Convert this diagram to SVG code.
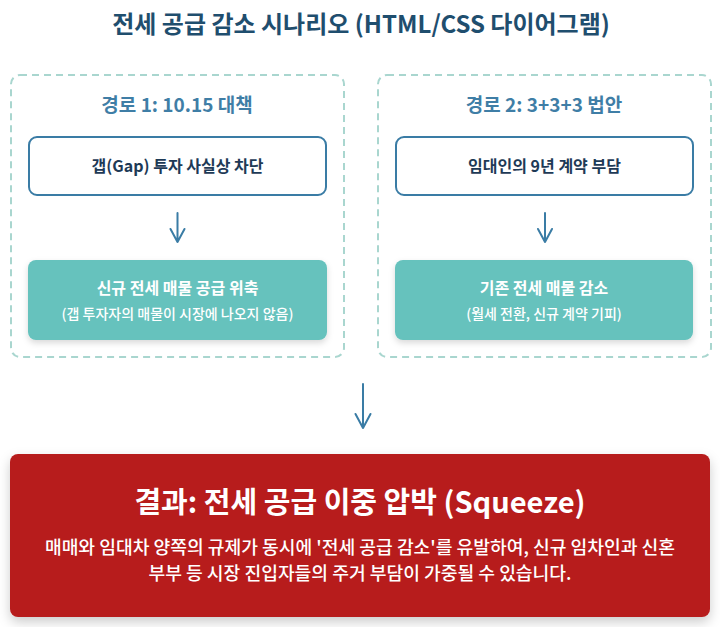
<svg xmlns="http://www.w3.org/2000/svg" width="720" height="627" viewBox="0 0 720 627">
<defs>
<filter id="sh" x="-10%" y="-20%" width="120%" height="150%">
<feDropShadow dx="0" dy="3" stdDeviation="3" flood-color="#000" flood-opacity="0.15"/>
</filter>
<filter id="sh2" x="-5%" y="-10%" width="110%" height="130%">
<feDropShadow dx="0" dy="5" stdDeviation="6" flood-color="#000" flood-opacity="0.2"/>
</filter>
<style>
text{font-family:"Noto Sans CJK KR","Noto Sans",sans-serif;text-anchor:middle}
.title{font-size:24px;font-weight:700;fill:#1f4e6e}
.path{fill:none;stroke:#a9d6cf;stroke-width:2;stroke-dasharray:7 5}
.head{font-size:19px;font-weight:700;fill:#3f7ea6}
.wbox{fill:#fff;stroke:#3a7ca5;stroke-width:2}
.wtxt{font-size:16px;font-weight:700;fill:#1e3a56}
.tbox{fill:#66c2bd}
.ttl{font-size:16px;font-weight:700;fill:#fff}
.tsub{font-size:14px;font-weight:500;fill:#fff}
.arr{fill:none;stroke:#3a7ca5;stroke-width:2;stroke-linecap:round;stroke-linejoin:round}
.rbox{fill:#b71c1c}
.rt{font-size:29px;font-weight:700;fill:#fff}
.rs{font-size:18.2px;font-weight:500;fill:#fff}
</style>
</defs>
<rect width="720" height="627" fill="#fff"/>
<text class="title" x="361" y="33">전세 공급 감소 시나리오 (HTML/CSS 다이어그램)</text>

<g id="path1">
<rect class="path" x="11" y="75" width="333" height="282" rx="9"/>
<text class="head" x="177" y="112">경로 1: 10.15 대책</text>
</g>
<g id="path2">
<rect class="path" x="378" y="75" width="333" height="282" rx="9"/>
<text class="head" x="544" y="112">경로 2: 3+3+3 법안</text>
</g>

<g id="gap">
<rect class="wbox" x="29" y="137" width="297" height="58" rx="8"/>
<text class="wtxt" x="177.5" y="172">갭(Gap) 투자 사실상 차단</text>
</g>
<g id="lease">
<rect class="wbox" x="396" y="137" width="297" height="58" rx="8"/>
<text class="wtxt" x="544.5" y="172">임대인의 9년 계약 부담</text>
</g>
<g id="newsupply">
<rect class="tbox" x="28" y="260" width="299" height="80" rx="8" filter="url(#sh)"/>
<text class="ttl" x="177.5" y="294">신규 전세 매물 공급 위축</text>
<text class="tsub" x="177.5" y="319">(갭 투자자의 매물이 시장에 나오지 않음)</text>
</g>
<g id="existing">
<rect class="tbox" x="395" y="260" width="298" height="80" rx="8" filter="url(#sh)"/>
<text class="ttl" x="544" y="294">기존 전세 매물 감소</text>
<text class="tsub" x="544" y="319">(월세 전환, 신규 계약 기피)</text>
</g>

<g id="connectors">
<path class="arr" d="M177.5 213 V242 M170.5 229 L177.5 242 L184.5 229"/>
<path class="arr" d="M545 213 V242 M538 229 L545 242 L552 229"/>
<path class="arr" stroke-width="2.5" d="M363 384 V428 M355.5 414 L363 428 L370.5 414"/>
</g>

<g id="result">
<rect class="rbox" x="10" y="454" width="700" height="163" rx="8" filter="url(#sh2)"/>
<text class="rt" x="360" y="513">결과: 전세 공급 이중 압박 (Squeeze)</text>
<text class="rs" x="360" y="554">매매와 임대차 양쪽의 규제가 동시에 '전세 공급 감소'를 유발하여, 신규 임차인과 신혼</text>
<text class="rs" x="360" y="580">부부 등 시장 진입자들의 주거 부담이 가중될 수 있습니다.</text>
</g>
</svg>
